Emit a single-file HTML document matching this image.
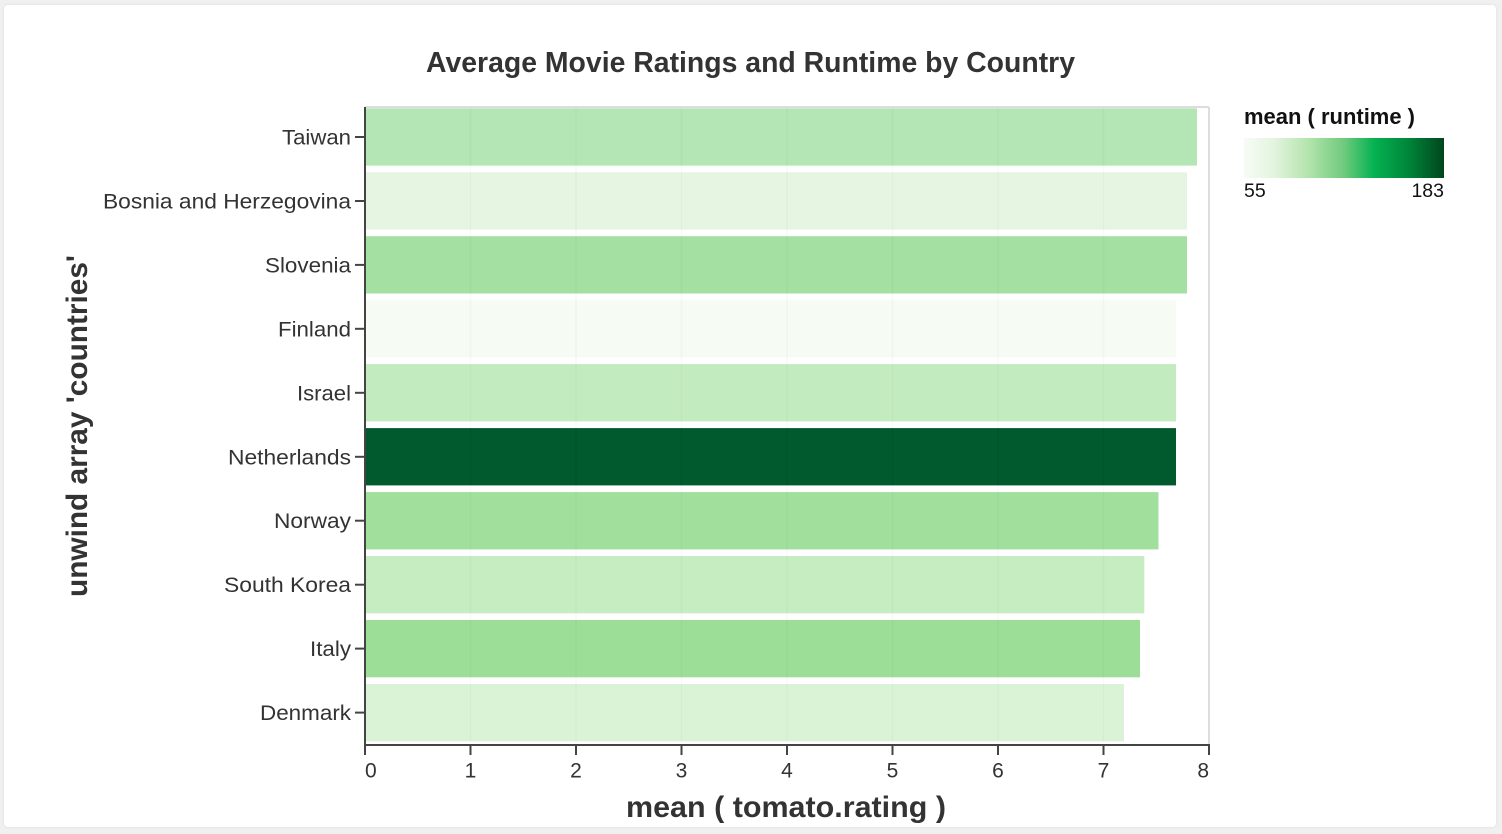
<!DOCTYPE html>
<html>
<head>
<meta charset="utf-8">
<style>
  html,body{margin:0;padding:0;background:#f0f0f0;}
  body{width:1502px;height:834px;position:relative;overflow:hidden;font-family:"Liberation Sans",Arial,sans-serif;}
  .card{position:absolute;left:4px;top:5px;width:1492px;height:822px;background:#fff;border-radius:4px;box-shadow:0 0 3px rgba(0,0,0,0.08);}
  svg{position:absolute;left:0;top:0;}
</style>
</head>
<body>
<div class="card"></div>
<svg width="1502" height="834" viewBox="0 0 1502 834" xmlns="http://www.w3.org/2000/svg" font-family="Liberation Sans, Arial, sans-serif">
  <defs>
    <linearGradient id="g" x1="0" x2="1" y1="0" y2="0">
      <stop offset="0" stop-color="#f7fcf5"/>
      <stop offset="0.15" stop-color="#e3f4df"/>
      <stop offset="0.32" stop-color="#b4e4ad"/>
      <stop offset="0.5" stop-color="#6fca7c"/>
      <stop offset="0.65" stop-color="#05b253"/>
      <stop offset="0.82" stop-color="#00863a"/>
      <stop offset="1" stop-color="#00461d"/>
    </linearGradient>
  </defs>

  <!-- Title -->
  <text x="426" y="72" font-size="29" font-weight="bold" fill="#333" textLength="649" lengthAdjust="spacingAndGlyphs">Average Movie Ratings and Runtime by Country</text>

  <!-- plot frame -->
  <line x1="365" y1="107" x2="1209" y2="107" stroke="#ddd" stroke-width="2"/>
  <line x1="1209" y1="107" x2="1209" y2="745" stroke="#ddd" stroke-width="2"/>

  <!-- bars -->
  <rect x="365" y="108.3" width="832" height="57.3" fill="#b3e6b4"/>
  <rect x="365" y="172.3" width="822" height="57.3" fill="#e5f5e2"/>
  <rect x="365" y="236.2" width="822" height="57.3" fill="#a4e0a1"/>
  <rect x="365" y="300.2" width="811" height="57.3" fill="#f6fbf4"/>
  <rect x="365" y="364.1" width="811" height="57.3" fill="#c3ebc0"/>
  <rect x="365" y="428.1" width="811" height="57.3" fill="#01592e"/>
  <rect x="365" y="492.1" width="793.5" height="57.3" fill="#a1df9d"/>
  <rect x="365" y="556.0" width="779.3" height="57.3" fill="#c6ecc2"/>
  <rect x="365" y="620.0" width="775" height="57.3" fill="#9cdd98"/>
  <rect x="365" y="684.0" width="759" height="57.3" fill="#daf3d6"/>

  <!-- faint grid inside bars -->
  <g stroke="#000" stroke-opacity="0.025" stroke-width="1.5">
    <line x1="470.5" y1="108" x2="470.5" y2="742"/>
    <line x1="576" y1="108" x2="576" y2="742"/>
    <line x1="681.5" y1="108" x2="681.5" y2="742"/>
    <line x1="787" y1="108" x2="787" y2="742"/>
    <line x1="892.5" y1="108" x2="892.5" y2="742"/>
    <line x1="998" y1="108" x2="998" y2="742"/>
    <line x1="1103.5" y1="108" x2="1103.5" y2="742"/>
  </g>

  <!-- axes -->
  <line x1="365" y1="107" x2="365" y2="746" stroke="#444" stroke-width="2"/>
  <line x1="364" y1="745" x2="1210" y2="745" stroke="#444" stroke-width="2"/>

  <!-- y ticks -->
  <g stroke="#444" stroke-width="2">
    <line x1="355" y1="137" x2="365" y2="137"/>
    <line x1="355" y1="201" x2="365" y2="201"/>
    <line x1="355" y1="264.9" x2="365" y2="264.9"/>
    <line x1="355" y1="328.8" x2="365" y2="328.8"/>
    <line x1="355" y1="392.8" x2="365" y2="392.8"/>
    <line x1="355" y1="456.8" x2="365" y2="456.8"/>
    <line x1="355" y1="520.7" x2="365" y2="520.7"/>
    <line x1="355" y1="584.7" x2="365" y2="584.7"/>
    <line x1="355" y1="648.6" x2="365" y2="648.6"/>
    <line x1="355" y1="712.6" x2="365" y2="712.6"/>
  </g>
  <g font-size="21.5" fill="#333" text-anchor="end">
    <text x="351" y="144.5" textLength="69" lengthAdjust="spacingAndGlyphs">Taiwan</text>
    <text x="351" y="208.5" textLength="248" lengthAdjust="spacingAndGlyphs">Bosnia and Herzegovina</text>
    <text x="351" y="272.4" textLength="86" lengthAdjust="spacingAndGlyphs">Slovenia</text>
    <text x="351" y="336.3" textLength="73" lengthAdjust="spacingAndGlyphs">Finland</text>
    <text x="351" y="400.3" textLength="54" lengthAdjust="spacingAndGlyphs">Israel</text>
    <text x="351" y="464.3" textLength="123" lengthAdjust="spacingAndGlyphs">Netherlands</text>
    <text x="351" y="528.2" textLength="77" lengthAdjust="spacingAndGlyphs">Norway</text>
    <text x="351" y="592.2" textLength="127" lengthAdjust="spacingAndGlyphs">South Korea</text>
    <text x="351" y="656.1" textLength="41" lengthAdjust="spacingAndGlyphs">Italy</text>
    <text x="351" y="720.1" textLength="91" lengthAdjust="spacingAndGlyphs">Denmark</text>
  </g>

  <!-- x ticks -->
  <g stroke="#444" stroke-width="2">
    <line x1="365" y1="745" x2="365" y2="755"/>
    <line x1="470.5" y1="745" x2="470.5" y2="755"/>
    <line x1="576" y1="745" x2="576" y2="755"/>
    <line x1="681.5" y1="745" x2="681.5" y2="755"/>
    <line x1="787" y1="745" x2="787" y2="755"/>
    <line x1="892.5" y1="745" x2="892.5" y2="755"/>
    <line x1="998" y1="745" x2="998" y2="755"/>
    <line x1="1103.5" y1="745" x2="1103.5" y2="755"/>
    <line x1="1209" y1="745" x2="1209" y2="755"/>
  </g>
  <g font-size="21" fill="#333" text-anchor="middle">
    <text x="365" y="777.5" text-anchor="start">0</text>
    <text x="470.5" y="777.5">1</text>
    <text x="576" y="777.5">2</text>
    <text x="681.5" y="777.5">3</text>
    <text x="787" y="777.5">4</text>
    <text x="892.5" y="777.5">5</text>
    <text x="998" y="777.5">6</text>
    <text x="1103.5" y="777.5">7</text>
    <text x="1209" y="777.5" text-anchor="end">8</text>
  </g>

  <!-- axis titles -->
  <text x="626" y="817" font-size="30" font-weight="bold" fill="#333" textLength="320" lengthAdjust="spacingAndGlyphs">mean ( tomato.rating )</text>
  <text transform="translate(87,426) rotate(-90)" x="0" y="0" text-anchor="middle" font-size="30" font-weight="bold" fill="#333" textLength="342" lengthAdjust="spacingAndGlyphs">unwind array 'countries'</text>

  <!-- legend -->
  <text x="1244" y="124" font-size="22" font-weight="bold" fill="#111" textLength="171" lengthAdjust="spacingAndGlyphs">mean ( runtime )</text>
  <rect x="1244" y="138" width="200" height="40" fill="url(#g)"/>
  <text x="1244" y="197" font-size="19.5" fill="#111">55</text>
  <text x="1444" y="197" font-size="19.5" fill="#111" text-anchor="end">183</text>
</svg>
</body>
</html>
